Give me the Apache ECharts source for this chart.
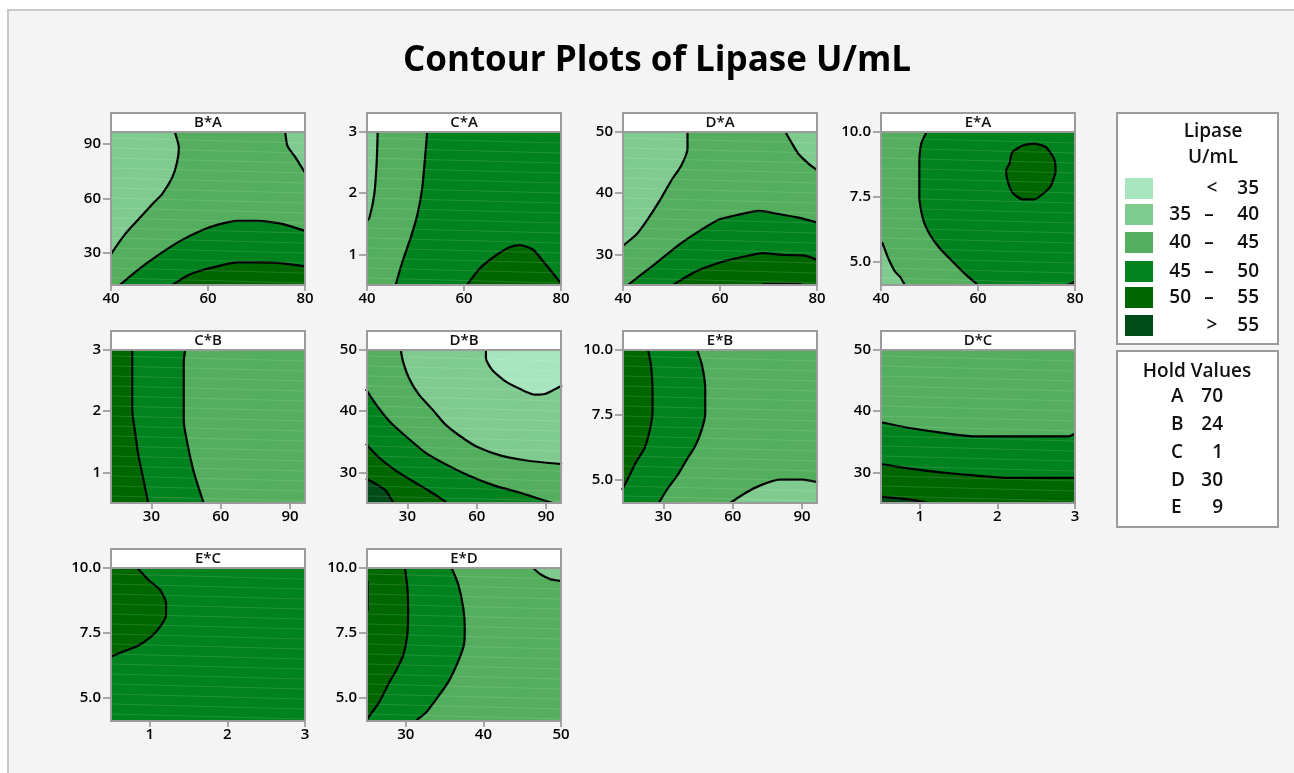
<!DOCTYPE html>
<html>
<head>
<meta charset="utf-8">
<title>Contour Plots of Lipase U/mL</title>
<script src="https://cdn.jsdelivr.net/npm/echarts@6/dist/echarts.min.js"></script>
<style>
  html, body { margin: 0; padding: 0; background: #ffffff; }
  #chart { width: 1294px; height: 773px; }
</style>
</head>
<body>
<div id="chart"></div>
<script>
// ---- Response levels (Lipase U/mL) ----
const levelBounds = [35, 40, 45, 50, 55];
const levelColors = ['#a6e5bd', '#7fcb8f', '#53ae5d', '#00821f', '#006600', '#004b18'];

// ---- Hold values for the factors not shown in a panel ----
const holdFactors = ['A', 'B', 'C', 'D', 'E'];
const holdValues = [70, 24, 1, 30, 9];

// ---- Factor ranges and tick values ----
const rangeA = [40, 80];   const ticksA = [40, 60, 80];
const rangeB = [12.5, 96.5]; const ticksB = [30, 60, 90];
const rangeC = [0.5, 3];   const ticksC = [1, 2, 3];
const rangeD = [25, 50];   const ticksD = [30, 40, 50];
const rangeE = [4.1, 10];  const ticksE = [5, 7.5, 10];

// ---- Panels: name, x factor, y factor, level of the background band ----
const panelNames = ['B*A', 'C*A', 'D*A', 'E*A', 'C*B', 'D*B', 'E*B', 'D*C', 'E*C', 'E*D'];
const panelX = ['A', 'A', 'A', 'A', 'B', 'B', 'B', 'C', 'C', 'D'];
const panelY = ['B', 'C', 'D', 'E', 'C', 'D', 'E', 'D', 'E', 'E'];
const panelBase = [2, 2, 2, 3, 2, 2, 2, 2, 3, 2];

// ---- Contour bands: painted in order; each band = contour line + closing corners ----
const BA = [
  { level: 1, pts: [[53.1,97],[54.0,87.8],[53.6,79.6],[52.6,71.4],[50.5,62.3],[48.8,57.7],[46.0,49.5],[42.9,40.4],[40,29.5]], close: [[40,97]] },
  { level: 1, pts: [[75.9,97],[76.4,88.7],[78.1,82.3],[80,74.1]], close: [[80,97]] },
  { level: 3, pts: [[41.6,12],[45.3,20.3],[49.5,28.5],[54.3,36.7],[58.4,42.2],[61.9,45.5],[66.0,47.7],[70.2,47.7],[75.0,46.2],[80,42.2]], close: [[80,12]] },
  { level: 4, pts: [[52.4,12],[55.7,17.6],[58.4,20.3],[61.9,22.7],[66.0,24.9],[70.2,24.9],[75.0,24.5],[80,22.7]], close: [[80,12]] }
];
const CA = [
  { level: 1, pts: [[42.2,3],[42.0,2.51],[41.5,1.98],[40.5,1.6],[40,1.55]], close: [[40,3]] },
  { level: 3, pts: [[52.4,3],[52.1,2.70],[51.4,2.09],[50.4,1.65],[49.0,1.27],[47.3,0.88],[45.9,0.5]], close: [[80,0.5],[80,3]] },
  { level: 4, pts: [[60.6,0.5],[63.3,0.775],[66.7,0.99],[69.5,1.12],[71.5,1.15],[74.2,1.08],[76.9,0.83],[79.7,0.555],[80,0.52]], close: [[80,0.5]] }
];
const DA = [
  { level: 1, pts: [[53.3,50],[53.3,47.25],[52.0,44.5],[49.9,42.0],[47.5,38.7],[44.8,35.4],[42.7,33.2],[40.3,31.6],[40,31.4]], close: [[40,50]] },
  { level: 1, pts: [[73.5,50],[74.5,48.6],[76.2,46.4],[78.3,44.8],[80,43.8]], close: [[80,50]] },
  { level: 3, pts: [[41.0,25],[45.5,27.75],[51.6,31.6],[55.7,33.8],[59.8,35.7],[63.9,36.5],[68.0,37.1],[72.1,36.6],[76.2,36.0],[80,35.2]], close: [[80,25]] },
  { level: 4, pts: [[50.3,25],[55.0,27.2],[60.5,28.8],[65.3,29.7],[68.7,30.2],[73.5,29.9],[77.6,29.8],[80,29.1]], close: [[80,25]] },
  { level: 5, pts: [[68.8,25.15],[76.8,25.15]], close: [[76.8,25],[68.8,25]] }
];
const EA = [
  { level: 2, pts: [[49.4,10],[48.3,9.55],[47.9,8.77],[47.9,7.47],[48.7,6.62],[50.1,6.04],[52.1,5.52],[54.8,5.0],[57.6,4.48],[60.0,4.1]], close: [[40,4.1],[40,10]] },
  { level: 1, pts: [[40,5.75],[40.3,5.71],[41.5,5.13],[42.9,4.61],[43.9,4.42],[44.9,4.1]], close: [[40,4.1]] },
  { level: 4, pts: [[66.5,8.77],[67.1,9.22],[69.2,9.48],[71.6,9.55],[74.0,9.42],[75.7,8.96],[76.0,8.51],[75.0,7.92],[73.3,7.60],[71.6,7.40],[69.2,7.40],[67.1,7.66],[66.1,8.12],[65.8,8.51],[66.5,8.77]], close: [] },
  { level: 4, pts: [[78.4,4.1],[80,4.22]], close: [[80,4.1]] }
];
const CB = [
  { level: 3, pts: [[44.6,3],[44.0,2.81],[44.0,1.83],[45.7,1.45],[47.9,1.07],[50.0,0.80],[52.6,0.5]], close: [[12,0.5],[12,3]] },
  { level: 4, pts: [[21.7,3],[21.7,2.02],[22.9,1.67],[24.3,1.29],[26.4,0.91],[28.6,0.5]], close: [[12,0.5],[12,3]] }
];
const DB = [
  { level: 1, pts: [[27.1,50],[28.1,48.1],[30.7,45.4],[35.0,42.7],[40.8,40.3],[46.5,37.8],[53.7,35.7],[60.8,34.05],[70.9,32.7],[82.4,31.9],[97,31.35]], close: [[97,50]] },
  { level: 0, pts: [[64.0,50],[64.0,48.65],[66.6,46.8],[72.3,44.9],[79.5,43.5],[85.2,42.7],[89.5,42.8],[97,44.2]], close: [[97,50]] },
  { level: 3, pts: [[12,43.6],[16.4,41.1],[22.1,38.4],[29.3,35.9],[37.9,33.2],[46.5,31.35],[56.5,29.5],[68.0,27.8],[78.1,26.75],[89.5,25.4],[93,25]], close: [[12,25]] },
  { level: 4, pts: [[12,34.7],[17.8,32.4],[25,30.3],[32.2,28.6],[39.3,27.0],[45.8,25.4],[47,25]], close: [[12,25]] },
  { level: 5, pts: [[12,29.0],[16.4,28.1],[20.7,27.0],[23.5,25.3],[24,25]], close: [[12,25]] }
];
const EB = [
  { level: 3, pts: [[44.6,10],[46.7,9.42],[48.1,8.51],[48.1,7.55],[46.7,6.96],[43.9,6.32],[40.3,5.80],[36.0,5.16],[31.7,4.64],[28.1,4.12],[27.9,4.1]], close: [[12,4.1],[12,10]] },
  { level: 4, pts: [[23.4,10],[24.6,9.42],[25.3,8.39],[25.3,7.61],[23.9,6.83],[21.7,6.19],[18.1,5.67],[15.3,5.16],[13.1,4.77],[12,4.6]], close: [[12,10]] },
  { level: 1, pts: [[58.9,4.1],[64.6,4.44],[71.7,4.77],[80.3,5.0],[90.3,5.0],[97,4.9]], close: [[97,4.1]] }
];
const DC = [
  { level: 3, pts: [[0.5,38.2],[0.85,37.3],[1.27,36.5],[1.70,35.9],[2.12,35.9],[2.54,35.9],[2.92,35.9],[3,36.3]], close: [[3,25],[0.5,25]] },
  { level: 4, pts: [[0.5,31.35],[0.85,30.65],[1.27,30.0],[1.70,29.5],[2.12,29.1],[2.54,29.1],[3,29.1]], close: [[3,25],[0.5,25]] },
  { level: 5, pts: [[0.5,26.05],[0.77,25.7],[1.05,25.2],[1.1,25]], close: [[0.5,25]] }
];
const EC = [
  { level: 4, pts: [[0.84,10],[0.98,9.55],[1.13,9.16],[1.21,8.65],[1.21,8.20],[1.15,7.81],[1.02,7.36],[0.83,6.97],[0.66,6.78],[0.5,6.58]], close: [[0.5,10]] }
];
const ED = [
  { level: 3, pts: [[35.9,10],[36.75,9.38],[37.4,8.47],[37.6,7.69],[37.5,7.05],[36.75,6.40],[35.5,5.62],[34.0,4.97],[32.7,4.46],[31.4,4.13],[31.3,4.1]], close: [[25,4.1],[25,10]] },
  { level: 4, pts: [[29.9,10],[30.2,9.25],[30.3,8.47],[30.2,7.44],[29.7,6.66],[28.8,6.08],[27.7,5.49],[26.6,4.84],[25.1,4.2],[25,4.15]], close: [[25,10]] },
  { level: 5, pts: [[25.08,9.5],[25.08,8.35]], close: [[25,8.35],[25,9.5]] },
  { level: 1, pts: [[46.4,10],[47.3,9.77],[48.6,9.57],[50,9.5]], close: [[50,10]] }
];
const panelBands = [BA, CA, DA, EA, CB, DB, EB, DC, EC, ED];

// ---- Layout ----
const FONT = '"Open Sans", "Noto Sans", sans-serif';
const colLeft = [111, 367, 623, 881];
const rowTop = [132, 350, 568];
const plotW = 194, plotH = 153;
const panelCell = [[0,0],[0,1],[0,2],[0,3],[1,0],[1,1],[1,2],[1,3],[2,0],[2,1]];
const frameColor = '#9b9b9b';

const factorInfo = {
  A: { range: rangeA, ticks: ticksA, fmt: v => String(v) },
  B: { range: rangeB, ticks: ticksB, fmt: v => String(v) },
  C: { range: rangeC, ticks: ticksC, fmt: v => String(v) },
  D: { range: rangeD, ticks: ticksD, fmt: v => String(v) },
  E: { range: rangeE, ticks: ticksE, fmt: v => v.toFixed(1) }
};

const grids = [], xAxes = [], yAxes = [], series = [], graphics = [];

// page frame and title
graphics.push({ type: 'rect', z: -5, shape: { x: 8, y: 10, width: 1300, height: 780 },
  style: { fill: '#f4f4f4', stroke: '#c9c9c9', lineWidth: 2 } });
graphics.push({ type: 'text', z: 10, x: 657, y: 61,
  style: { text: 'Contour Plots of Lipase U/mL', fill: '#000', font: 'bold 35px ' + FONT,
    textAlign: 'center', textVerticalAlign: 'middle' } });

function axisFor(factor, i, isX) {
  const f = factorInfo[factor];
  return {
    type: 'value', gridIndex: i, min: f.range[0], max: f.range[1],
    axisLine: { show: false },
    splitLine: { show: false },
    axisTick: { show: true, customValues: f.ticks, length: isX ? 6 : 8, inside: false,
      lineStyle: { color: '#8d8d8d', width: 1.5 } },
    axisLabel: { customValues: f.ticks, formatter: f.fmt, color: '#000', fontSize: 15,
      fontWeight: 600, fontFamily: FONT, margin: isX ? 6 : 10, showMinLabel: true, showMaxLabel: true },
  };
}

panelNames.forEach((name, i) => {
  const [r, c] = panelCell[i];
  const left = colLeft[c], top = rowTop[r];
  grids.push({ left: left, top: top, width: plotW, height: plotH, containLabel: false });
  xAxes.push(axisFor(panelX[i], i, true));
  yAxes.push(axisFor(panelY[i], i, false));

  const xr = factorInfo[panelX[i]].range, yr = factorInfo[panelY[i]].range;
  const fullRect = [[xr[0], yr[0]], [xr[1], yr[0]], [xr[1], yr[1]], [xr[0], yr[1]]];
  const polys = [{ level: panelBase[i], poly: fullRect }]
    .concat(panelBands[i].map(b => ({ level: b.level, poly: b.pts.concat(b.close) })));

  // filled bands, painted in order
  series.push({
    type: 'custom', xAxisIndex: i, yAxisIndex: i, silent: true, clip: true, z: 1,
    data: polys.map((p, k) => k),
    renderItem: (params, api) => {
      const p = polys[params.dataIndex];
      return { type: 'polygon', shape: { points: p.poly.map(q => api.coord(q)) },
        style: { fill: levelColors[p.level], stroke: levelColors[p.level], lineWidth: 0.5 } };
    }
  });
  // contour lines
  panelBands[i].forEach(b => {
    series.push({
      type: 'line', xAxisIndex: i, yAxisIndex: i, silent: true, z: 3,
      data: b.pts, symbol: 'none', smooth: 0.2, clip: true,
      lineStyle: { color: '#000', width: 2.2 }
    });
  });

  // faint rendering mesh over the filled surface
  for (let y = top + 6; y + 5 < top + plotH; y += 10) {
    graphics.push({ type: 'line', z: 5, silent: true,
      shape: { x1: left + 1, y1: y, x2: left + plotW - 1, y2: y + 5 },
      style: { stroke: 'rgba(255,255,255,0.13)', lineWidth: 1 } });
  }

  // frame and header strip
  graphics.push({ type: 'rect', z: 20, shape: { x: left, y: top, width: plotW, height: plotH },
    style: { fill: 'none', stroke: frameColor, lineWidth: 2 } });
  graphics.push({ type: 'rect', z: 20, shape: { x: left, y: top - 19, width: plotW, height: 19 },
    style: { fill: '#ffffff', stroke: frameColor, lineWidth: 2 } });
  graphics.push({ type: 'text', z: 21, x: left + plotW / 2, y: top - 9.5,
    style: { text: name, fill: '#111', font: '600 15px ' + FONT,
      textAlign: 'center', textVerticalAlign: 'middle' } });
});

// ---- Level key ----
const KEY_FONT = '600 19px ' + FONT;
graphics.push({ type: 'rect', z: 20, shape: { x: 1117, y: 113, width: 161, height: 231 },
  style: { fill: '#ffffff', stroke: frameColor, lineWidth: 2 } });
graphics.push({ type: 'text', z: 21, x: 1213, y: 132,
  style: { text: 'Lipase', fill: '#111', font: KEY_FONT, textAlign: 'center', textVerticalAlign: 'middle' } });
graphics.push({ type: 'text', z: 21, x: 1213, y: 158,
  style: { text: 'U/mL', fill: '#111', font: KEY_FONT, textAlign: 'center', textVerticalAlign: 'middle' } });
const swatchTop = [178, 204, 232, 261, 287, 315];
levelColors.forEach((col, k) => {
  const y = swatchTop[k];
  const cy = y + 10.5;
  graphics.push({ type: 'rect', z: 21, shape: { x: 1125, y: y, width: 28, height: 21 }, style: { fill: col } });
  const txt = (t, x, align) => graphics.push({ type: 'text', z: 21, x: x, y: cy,
    style: { text: t, fill: '#111', font: KEY_FONT, textAlign: align, textVerticalAlign: 'middle' } });
  if (k === 0) {
    txt('<', 1212, 'center'); txt(String(levelBounds[0]), 1259, 'right');
  } else if (k === levelColors.length - 1) {
    txt('>', 1212, 'center'); txt(String(levelBounds[levelBounds.length - 1]), 1259, 'right');
  } else {
    txt(String(levelBounds[k - 1]), 1191, 'right'); txt('–', 1209, 'center'); txt(String(levelBounds[k]), 1259, 'right');
  }
});

// ---- Hold values box ----
graphics.push({ type: 'rect', z: 20, shape: { x: 1117, y: 351, width: 161, height: 176 },
  style: { fill: '#ffffff', stroke: frameColor, lineWidth: 2 } });
graphics.push({ type: 'text', z: 21, x: 1197, y: 372,
  style: { text: 'Hold Values', fill: '#111', font: KEY_FONT, textAlign: 'center', textVerticalAlign: 'middle' } });
const holdRowY = [397, 425, 453, 481, 508];
holdFactors.forEach((f, k) => {
  graphics.push({ type: 'text', z: 21, x: 1171, y: holdRowY[k],
    style: { text: f, fill: '#111', font: KEY_FONT, textAlign: 'left', textVerticalAlign: 'middle' } });
  graphics.push({ type: 'text', z: 21, x: 1223, y: holdRowY[k],
    style: { text: String(holdValues[k]), fill: '#111', font: KEY_FONT, textAlign: 'right', textVerticalAlign: 'middle' } });
});

const chart = echarts.init(document.getElementById('chart'), null, { renderer: 'canvas' });
chart.setOption({
  backgroundColor: '#ffffff',
  animation: false,
  grid: grids,
  xAxis: xAxes,
  yAxis: yAxes,
  series: series,
  graphic: { elements: graphics }
});
</script>
</body>
</html>
